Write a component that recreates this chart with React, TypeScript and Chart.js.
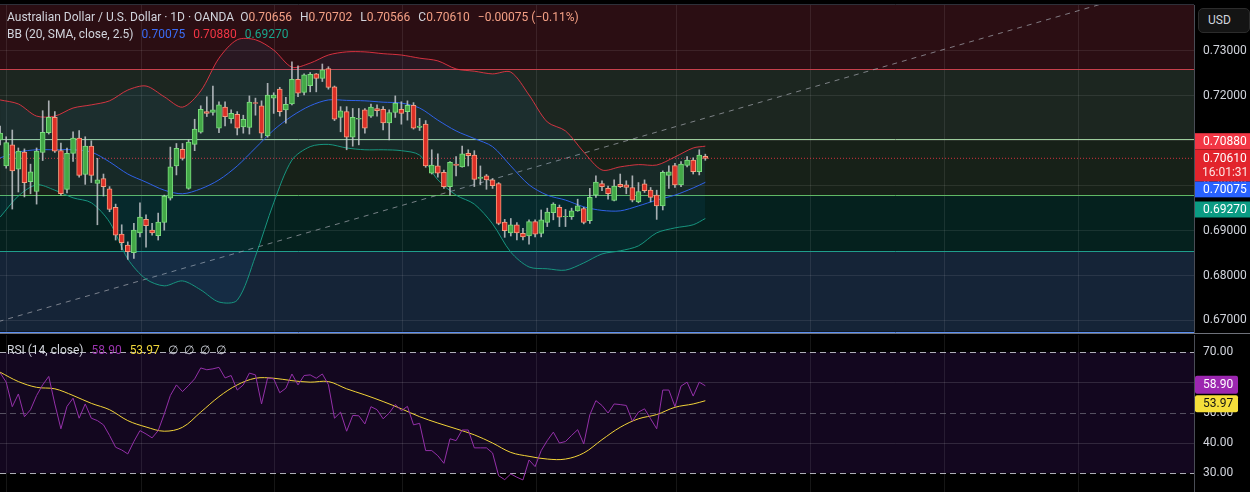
import React, { useEffect, useRef } from "react";
import { Chart, registerables } from "chart.js";

Chart.register(...registerables);

const FONT = "Roboto, 'Liberation Sans', Arial, sans-serif";

// ---------- daily candles (AUD/USD, 1D) ----------
const opens = [
  0.7102, 0.7044, 0.7091, 0.7037, 0.7075, 0.7009, 0.6987, 0.7074, 0.7118, 0.7152,
  0.7078, 0.6992, 0.7072, 0.7106, 0.7025, 0.7088, 0.7005, 0.7016, 0.6993, 0.6952,
  0.6892, 0.6868, 0.6851, 0.6895, 0.6925, 0.6901, 0.6889, 0.6918, 0.6972, 0.7044,
  0.7081, 0.6994, 0.7092, 0.7119, 0.7165, 0.7163, 0.7128, 0.7175, 0.7149, 0.7159,
  0.7131, 0.7130, 0.7185, 0.7178, 0.7111, 0.7195, 0.7215, 0.7169, 0.7182, 0.7237,
  0.7208, 0.7223, 0.7249, 0.7239, 0.7261, 0.7220, 0.7152, 0.7165, 0.7108, 0.7148,
  0.7169, 0.7155, 0.7172, 0.7170, 0.7140, 0.7163, 0.7170, 0.7165, 0.7179, 0.7130,
  0.7137, 0.7028, 0.7044, 0.7030, 0.6998, 0.7048, 0.7042, 0.7072, 0.7068, 0.7016,
  0.7022, 0.7013, 0.7005, 0.6919, 0.6895, 0.6913, 0.6894, 0.6888, 0.6920, 0.6894,
  0.6918, 0.6940, 0.6952, 0.6931, 0.6931, 0.6944, 0.6949, 0.6922, 0.6979, 0.7005,
  0.6994, 0.6967, 0.7003, 0.7002, 0.6996, 0.6964, 0.7004, 0.6990, 0.6979, 0.6955,
  0.7023, 0.7045, 0.7002, 0.7045, 0.7057, 0.7031, 0.70656,
];
const highs = [
  0.7133, 0.7109, 0.7124, 0.7084, 0.7082, 0.7048, 0.7084, 0.7167, 0.7189, 0.7165,
  0.7095, 0.7084, 0.7120, 0.7123, 0.7109, 0.7100, 0.7061, 0.7026, 0.6998, 0.6959,
  0.6913, 0.6875, 0.6916, 0.6962, 0.6935, 0.6916, 0.6939, 0.6979, 0.7086, 0.7094,
  0.7094, 0.7102, 0.7148, 0.7178, 0.7198, 0.7222, 0.7187, 0.7187, 0.7169, 0.7165,
  0.7157, 0.7200, 0.7195, 0.7189, 0.7228, 0.7207, 0.7219, 0.7197, 0.7276, 0.7267,
  0.7249, 0.7252, 0.7250, 0.7271, 0.7265, 0.7222, 0.7176, 0.7176, 0.7172, 0.7172,
  0.7172, 0.7182, 0.7180, 0.7176, 0.7169, 0.7200, 0.7187, 0.7189, 0.7185, 0.7150,
  0.7145, 0.7080, 0.7071, 0.7035, 0.7054, 0.7065, 0.7088, 0.7080, 0.7078, 0.7044,
  0.7025, 0.7016, 0.7007, 0.6925, 0.6927, 0.6918, 0.6905, 0.6924, 0.6924, 0.6946,
  0.6950, 0.6962, 0.6957, 0.6947, 0.6950, 0.6970, 0.6952, 0.6994, 0.7022, 0.7011,
  0.6999, 0.7013, 0.7026, 0.7011, 0.7022, 0.7007, 0.7013, 0.6996, 0.6990, 0.7033,
  0.7044, 0.7050, 0.7054, 0.7065, 0.7062, 0.7080, 0.70702,
];
const lows = [
  0.7091, 0.7039, 0.6948, 0.6986, 0.6975, 0.6982, 0.6959, 0.7056, 0.7115, 0.7074,
  0.6979, 0.6984, 0.7054, 0.7019, 0.7003, 0.7007, 0.6913, 0.6977, 0.6942, 0.6879,
  0.6857, 0.6836, 0.6838, 0.6886, 0.6863, 0.6890, 0.6879, 0.6901, 0.6968, 0.7024,
  0.7057, 0.6992, 0.7078, 0.7117, 0.7154, 0.7157, 0.7118, 0.7133, 0.7139, 0.7113,
  0.7117, 0.7115, 0.7157, 0.7106, 0.7108, 0.7161, 0.7155, 0.7139, 0.7180, 0.7198,
  0.7202, 0.7209, 0.7209, 0.7232, 0.7215, 0.7145, 0.7120, 0.7080, 0.7088, 0.7091,
  0.7117, 0.7152, 0.7155, 0.7124, 0.7102, 0.7152, 0.7137, 0.7146, 0.7126, 0.7123,
  0.7041, 0.7026, 0.7019, 0.6994, 0.6979, 0.7022, 0.7041, 0.7044, 0.6998, 0.7002,
  0.6992, 0.6994, 0.6913, 0.6885, 0.6888, 0.6879, 0.6879, 0.6870, 0.6886, 0.6886,
  0.6909, 0.6924, 0.6909, 0.6909, 0.6925, 0.6943, 0.6915, 0.6916, 0.6974, 0.6989,
  0.6970, 0.6966, 0.6996, 0.6982, 0.6964, 0.6962, 0.6985, 0.6964, 0.6925, 0.6946,
  0.6994, 0.6996, 0.6998, 0.7042, 0.7026, 0.7024, 0.70566,
];
const closes = [
  0.7117, 0.7096, 0.7033, 0.7077, 0.7007, 0.7031, 0.7077, 0.7119, 0.7152, 0.7077,
  0.6982, 0.7072, 0.7106, 0.7023, 0.7088, 0.7023, 0.7013, 0.6998, 0.6947, 0.6890,
  0.6873, 0.6853, 0.6901, 0.6930, 0.6911, 0.6895, 0.6919, 0.6977, 0.7042, 0.7083,
  0.7061, 0.7097, 0.7126, 0.7170, 0.7161, 0.7169, 0.7180, 0.7154, 0.7161, 0.7128,
  0.7148, 0.7186, 0.7183, 0.7117, 0.7202, 0.7202, 0.7165, 0.7181, 0.7237, 0.7206,
  0.7247, 0.7248, 0.7239, 0.7258, 0.7219, 0.7148, 0.7167, 0.7108, 0.7152, 0.7150,
  0.7128, 0.7175, 0.7167, 0.7140, 0.7163, 0.7184, 0.7161, 0.7179, 0.7128, 0.7133,
  0.7044, 0.7046, 0.7028, 0.6998, 0.7052, 0.7045, 0.7071, 0.7067, 0.7014, 0.7019,
  0.7013, 0.7000, 0.6916, 0.6900, 0.6913, 0.6895, 0.6886, 0.6920, 0.6892, 0.6924,
  0.6941, 0.6959, 0.6930, 0.6932, 0.6944, 0.6955, 0.6918, 0.6974, 0.7008, 0.6998,
  0.6982, 0.6999, 0.6998, 0.6996, 0.6968, 0.6987, 0.6989, 0.6974, 0.6955, 0.7030,
  0.7031, 0.7002, 0.7048, 0.7057, 0.7031, 0.7068, 0.70610,
];

// ---------- Bollinger Bands (20, SMA, close, 2.5), sampled ----------
const bbIdx = [
  0, 3, 6, 9, 12, 15, 18, 21, 24, 27, 30, 33, 36, 39, 42, 45, 48, 51, 54, 57,
  60, 63, 66, 69, 72, 75, 78, 81, 84, 87, 90, 93, 96, 99, 102, 105, 108, 111, 114, 116,
];
const bbUpper = [
  0.7191, 0.7182, 0.7155, 0.7155, 0.7173, 0.7180, 0.7189, 0.7213, 0.7222, 0.7198,
  0.7175, 0.7211, 0.7284, 0.7325, 0.7325, 0.7302, 0.7264, 0.7273, 0.7291, 0.7298,
  0.7298, 0.7294, 0.7291, 0.7284, 0.7278, 0.7260, 0.7255, 0.7249, 0.7253, 0.7202,
  0.7142, 0.7122, 0.7075, 0.7035, 0.7042, 0.7047, 0.7046, 0.7064, 0.7084, 0.70880,
];
const bbMiddle = [
  0.7062, 0.7075, 0.7080, 0.7080, 0.7080, 0.7075, 0.7053, 0.7026, 0.7008, 0.6990,
  0.6982, 0.6993, 0.7013, 0.7044, 0.7084, 0.7124, 0.7155, 0.7178, 0.7191, 0.7190,
  0.7189, 0.7186, 0.7184, 0.7173, 0.7146, 0.7122, 0.7105, 0.7087, 0.7044, 0.7002,
  0.6979, 0.6968, 0.6953, 0.6945, 0.6944, 0.6955, 0.6968, 0.6979, 0.6995, 0.70075,
];
const bbLower = [
  0.6930, 0.6977, 0.7002, 0.6990, 0.6973, 0.6962, 0.6919, 0.6837, 0.6792, 0.6777,
  0.6788, 0.6768, 0.6741, 0.6745, 0.6843, 0.6962, 0.7057, 0.7087, 0.7092, 0.7084,
  0.7080, 0.7080, 0.7078, 0.7068, 0.7013, 0.6979, 0.6959, 0.6915, 0.6852, 0.6819,
  0.6815, 0.6812, 0.6828, 0.6848, 0.6855, 0.6866, 0.6895, 0.6906, 0.6913, 0.69270,
];

// ---------- RSI (14, close) and its moving average ----------
const rsiValues = [
  63.2, 60.1, 52.0, 56.2, 48.7, 51.0, 55.7, 59.2, 62.0, 52.9,
  44.7, 52.1, 54.8, 48.2, 52.9, 48.2, 47.4, 46.0, 42.5, 38.6,
  37.7, 36.4, 40.5, 44.1, 43.0, 41.7, 44.1, 49.6, 55.7, 59.2,
  57.0, 59.0, 61.2, 64.8, 64.2, 64.5, 65.0, 61.5, 62.3, 57.5,
  59.2, 63.1, 62.5, 52.9, 61.5, 61.2, 56.6, 58.1, 62.8, 59.2,
  62.3, 62.5, 61.4, 62.8, 59.3, 48.2, 50.2, 43.9, 49.1, 49.0,
  46.3, 52.0, 51.0, 48.0, 49.9, 52.7, 50.7, 52.1, 46.0, 46.5,
  37.5, 37.5, 35.8, 33.3, 41.4, 40.8, 44.3, 44.3, 38.4, 38.4,
  38.4, 36.7, 29.2, 27.9, 29.8, 28.7, 27.8, 34.4, 32.2, 37.5,
  40.8, 43.6, 40.0, 40.5, 42.5, 44.4, 39.7, 49.3, 54.0, 52.4,
  49.9, 52.9, 52.7, 52.4, 47.2, 50.2, 51.3, 48.0, 44.7, 57.5,
  57.5, 52.0, 58.8, 60.1, 55.5, 60.1, 58.90,
];
const rsiMaIdx = [
  0, 3, 6, 9, 12, 15, 18, 21, 24, 27, 30, 33, 36, 39, 42, 45, 48, 51, 54, 57,
  60, 63, 66, 69, 72, 75, 78, 81, 84, 87, 90, 93, 96, 99, 102, 105, 108, 111, 114, 116,
];
const rsiMa = [
  63.4, 60.3, 58.4, 57.9, 55.7, 53.1, 51.0, 47.4, 45.3, 43.9,
  45.2, 50.2, 55.3, 59.2, 61.4, 61.4, 60.6, 60.1, 60.3, 57.9,
  55.9, 53.7, 51.3, 48.7, 46.6, 44.7, 42.7, 40.0, 36.9, 35.6,
  34.7, 34.7, 36.7, 41.1, 45.2, 48.0, 49.4, 51.8, 52.9, 53.97,
];

// ---------- drawings, levels, ticks ----------
const trendIdx = [-5, 200];
const trendPrice = [0.6679, 0.7478];
const zoneLevels = [0.7260, 0.7103, 0.6979, 0.6855, 0.6675];
const monthTicks = [1.1, 23.2, 45.1, 66.2, 88.3, 111.3, 133.3, 155.4, 177.4];
const priceTicks = [0.67, 0.68, 0.69, 0.70, 0.71, 0.72, 0.73];
const rsiTicks = [30, 40, 50, 60, 70];
const rsiLevels = [70, 50, 30];
const lastTime = "16:01:31";

// ---------- view config ----------
const X_MIN = -0.02;
const X_MAX = 196.38;
const PRICE_MIN = 0.6672;
const PRICE_MAX = 0.74024;
const RSI_MIN = 23.82;
const RSI_MAX = 75.68;
const AXIS_W = 56;

const zoneFills = ["#2b0e13", "#1c2620", "#172118", "#05211e", "#152437"];
const zoneLines = ["#c8404c", "#9ccc9c", "#5fb865", "#1f9e8c", "#5b8ff0"];
const GRID = "rgba(255,255,255,0.085)";
const AXIS_TEXT = "#d1d4dc";

const last = closes.length - 1;

function roundRect(ctx: any, x: number, y: number, w: number, h: number, r: number) {
  ctx.beginPath();
  ctx.moveTo(x + r, y);
  ctx.lineTo(x + w - r, y);
  ctx.quadraticCurveTo(x + w, y, x + w, y + r);
  ctx.lineTo(x + w, y + h - r);
  ctx.quadraticCurveTo(x + w, y + h, x + w - r, y + h);
  ctx.lineTo(x + r, y + h);
  ctx.quadraticCurveTo(x, y + h, x, y + h - r);
  ctx.lineTo(x, y + r);
  ctx.quadraticCurveTo(x, y, x + r, y);
  ctx.closePath();
}

const pricePlugin = {
  id: "pricePanel",
  beforeDraw(chart: any) {
    const { ctx, chartArea: a } = chart;
    const y = chart.scales.y;
    ctx.save();
    ctx.fillStyle = "#000";
    ctx.fillRect(0, 0, chart.width, chart.height);
    const bounds = [PRICE_MAX + 1, ...zoneLevels];
    zoneFills.forEach((col, k) => {
      const t = Math.max(a.top, y.getPixelForValue(bounds[k]));
      const b = Math.min(a.bottom, y.getPixelForValue(bounds[k + 1]));
      if (b > t) {
        ctx.fillStyle = col;
        ctx.fillRect(a.left, t, a.right - a.left, b - t);
      }
    });
    ctx.restore();
  },
  beforeDatasetsDraw(chart: any) {
    const { ctx, chartArea: a } = chart;
    const y = chart.scales.y;
    ctx.save();
    ctx.lineWidth = 1;
    zoneLevels.forEach((lv, k) => {
      const py = Math.round(y.getPixelForValue(lv)) + 0.5;
      ctx.strokeStyle = zoneLines[k];
      ctx.beginPath();
      ctx.moveTo(a.left, py);
      ctx.lineTo(a.right, py);
      ctx.stroke();
    });
    ctx.restore();
  },
  afterDraw(chart: any) {
    const { ctx, chartArea: a } = chart;
    const y = chart.scales.y;
    ctx.save();
    ctx.strokeStyle = "#2e3039";
    ctx.lineWidth = 1;
    ctx.beginPath();
    ctx.moveTo(0, a.top - 0.5);
    ctx.lineTo(a.right, a.top - 0.5);
    ctx.stroke();

    const x0 = a.right + 1;
    const w = chart.width - x0;
    ctx.font = `12px ${FONT}`;
    ctx.textBaseline = "middle";
    ctx.textAlign = "left";
    const single = (v: number, bg: string, dy: number) => {
      const cy = y.getPixelForValue(v) + dy;
      ctx.fillStyle = bg;
      ctx.fillRect(x0, cy - 8, w, 16);
      ctx.fillStyle = "#ffffff";
      ctx.fillText(v.toFixed(5), x0 + 8, cy + 0.5);
    };
    single(bbLower[bbLower.length - 1], "#0b9b83", -9);
    single(bbMiddle[bbMiddle.length - 1], "#2962ff", 7);
    single(bbUpper[bbUpper.length - 1], "#f23645", -5);
    const pc = y.getPixelForValue(closes[last]);
    ctx.fillStyle = "#e2242c";
    ctx.fillRect(x0, pc - 9, w, 32);
    ctx.fillStyle = "#ffffff";
    ctx.fillText(closes[last].toFixed(5), x0 + 8, pc + 0.5);
    ctx.fillStyle = "#fde2e2";
    ctx.fillText(lastTime, x0 + 7, pc + 14.5);
    ctx.restore();
  },
};

const rsiPlugin = {
  id: "rsiPanel",
  beforeDraw(chart: any) {
    const { ctx, chartArea: a } = chart;
    const y = chart.scales.y;
    ctx.save();
    ctx.fillStyle = "#000";
    ctx.fillRect(0, 0, chart.width, chart.height);
    const t = y.getPixelForValue(rsiLevels[0]);
    const b = y.getPixelForValue(rsiLevels[rsiLevels.length - 1]);
    ctx.fillStyle = "#13071f";
    ctx.fillRect(a.left, t, a.right - a.left, b - t);
    ctx.restore();
  },
  beforeDatasetsDraw(chart: any) {
    const { ctx, chartArea: a } = chart;
    const y = chart.scales.y;
    ctx.save();
    ctx.lineWidth = 1;
    ctx.setLineDash([6, 4]);
    rsiLevels.forEach((lv, k) => {
      const py = Math.round(y.getPixelForValue(lv)) + 0.5;
      ctx.strokeStyle = k === 1 ? "rgba(140,140,150,0.55)" : "rgba(215,217,225,0.8)";
      ctx.beginPath();
      ctx.moveTo(a.left, py);
      ctx.lineTo(a.right, py);
      ctx.stroke();
    });
    ctx.restore();
  },
  afterDraw(chart: any) {
    const { ctx, chartArea: a } = chart;
    const y = chart.scales.y;
    ctx.save();
    const x0 = a.right + 1;
    const w = 43;
    ctx.font = `12px ${FONT}`;
    ctx.textBaseline = "middle";
    const maV = rsiMa[rsiMa.length - 1];
    const cyM = y.getPixelForValue(maV) + 3;
    ctx.fillStyle = "#f5df3b";
    roundRect(ctx, x0, cyM - 8.5, w, 17, 2);
    ctx.fill();
    ctx.fillStyle = "#131313";
    ctx.fillText(maV.toFixed(2), x0 + 8, cyM + 0.5);
    const rv = rsiValues[last];
    const cyR = y.getPixelForValue(rv) - 1;
    ctx.fillStyle = "#9c27b0";
    roundRect(ctx, x0, cyR - 9, w, 18, 2);
    ctx.fill();
    ctx.fillStyle = "#ffffff";
    ctx.fillText(rv.toFixed(2), x0 + 8, cyR + 0.5);
    ctx.restore();
  },
};

const noPad = (s: any) => {
  s.paddingTop = 0;
  s.paddingBottom = 0;
  s.paddingLeft = 0;
  s.paddingRight = 0;
};

const xScale = (ticksArr: number[]) => ({
  type: "linear",
  min: X_MIN,
  max: X_MAX,
  offset: false,
  afterBuildTicks: (s: any) => {
    s.ticks = ticksArr.map((v) => ({ value: v }));
  },
  afterFit: (s: any) => {
    s.height = 0;
    noPad(s);
  },
  grid: { color: GRID, drawTicks: false, offset: false },
  border: { display: false },
  ticks: { display: false },
});

function PricePanel() {
  const ref = useRef<HTMLCanvasElement>(null);
  useEffect(() => {
    if (!ref.current) return;
    const up = closes.map((c, i) => c >= opens[i]);
    const chart = new Chart(ref.current, {
      type: "bar",
      data: {
        datasets: [
          {
            type: "bar",
            data: closes.map((c, i) => ({ x: i, y: [opens[i], c] })),
            backgroundColor: up.map((u) => (u ? "#43a847" : "#dc2f27")),
            borderColor: up.map((u) => (u ? "#7bdc7e" : "#f59c7e")),
            borderWidth: 1,
            borderSkipped: false,
            barThickness: 5,
            grouped: false,
            order: 0,
          },
          {
            type: "bar",
            data: highs.map((h, i) => ({ x: i, y: [lows[i], h] })),
            backgroundColor: "rgba(205,207,212,0.8)",
            borderWidth: 0,
            barThickness: 1,
            grouped: false,
            order: 1,
          },
          {
            type: "line",
            data: bbIdx.map((x, k) => ({ x, y: bbUpper[k] })),
            borderColor: "rgba(242,54,69,0.85)",
            borderWidth: 1,
            pointRadius: 0,
            tension: 0.3,
            fill: false,
            order: 3,
          },
          {
            type: "line",
            data: bbIdx.map((x, k) => ({ x, y: bbMiddle[k] })),
            borderColor: "#2f62e8",
            borderWidth: 1,
            pointRadius: 0,
            tension: 0.3,
            fill: false,
            order: 3,
          },
          {
            type: "line",
            data: bbIdx.map((x, k) => ({ x, y: bbLower[k] })),
            borderColor: "#17957f",
            backgroundColor: "rgba(33,150,243,0.07)",
            borderWidth: 1,
            pointRadius: 0,
            tension: 0.3,
            fill: 2,
            order: 4,
          },
          {
            type: "line",
            data: trendIdx.map((x, k) => ({ x, y: trendPrice[k] })),
            borderColor: "rgba(165,168,176,0.7)",
            borderDash: [5, 5],
            borderWidth: 1,
            pointRadius: 0,
            fill: false,
            order: 5,
          },
          {
            type: "line",
            data: [
              { x: X_MIN, y: closes[last] },
              { x: X_MAX, y: closes[last] },
            ],
            borderColor: "rgba(242,54,69,0.85)",
            borderDash: [1, 2],
            borderWidth: 1,
            pointRadius: 0,
            fill: false,
            order: 6,
          },
        ],
      } as any,
      options: {
        animation: false,
        responsive: true,
        maintainAspectRatio: false,
        events: [],
        layout: { padding: { top: 5, left: 0, right: 0, bottom: 0 } },
        plugins: { legend: { display: false }, tooltip: { enabled: false } },
        scales: {
          x: xScale(monthTicks) as any,
          y: {
            type: "linear",
            position: "right",
            min: PRICE_MIN,
            max: PRICE_MAX,
            afterBuildTicks: (s: any) => {
              s.ticks = priceTicks.map((v) => ({ value: v }));
            },
            afterFit: (s: any) => {
              s.width = AXIS_W;
              noPad(s);
            },
            grid: { color: GRID, drawTicks: false },
            border: { display: true, color: "#4a4d56" },
            ticks: {
              color: AXIS_TEXT,
              font: { family: FONT, size: 12 },
              padding: 9,
              autoSkip: false,
              callback: (v: any) => Number(v).toFixed(5),
            },
          } as any,
        },
      },
      plugins: [pricePlugin],
    });
    return () => chart.destroy();
  }, []);
  return <canvas ref={ref} />;
}

function RsiPanel() {
  const ref = useRef<HTMLCanvasElement>(null);
  useEffect(() => {
    if (!ref.current) return;
    const chart = new Chart(ref.current, {
      type: "line",
      data: {
        datasets: [
          {
            data: rsiValues.map((v, i) => ({ x: i, y: v })),
            borderColor: "#9330a8",
            borderWidth: 1,
            pointRadius: 0,
            tension: 0,
            fill: false,
            order: 0,
          },
          {
            data: rsiMaIdx.map((x, k) => ({ x, y: rsiMa[k] })),
            borderColor: "#f2d338",
            borderWidth: 1,
            pointRadius: 0,
            tension: 0.35,
            fill: false,
            order: 1,
          },
        ],
      } as any,
      options: {
        animation: false,
        responsive: true,
        maintainAspectRatio: false,
        events: [],
        layout: { padding: 0 },
        plugins: { legend: { display: false }, tooltip: { enabled: false } },
        scales: {
          x: xScale(monthTicks) as any,
          y: {
            type: "linear",
            position: "right",
            min: RSI_MIN,
            max: RSI_MAX,
            afterBuildTicks: (s: any) => {
              s.ticks = rsiTicks.map((v) => ({ value: v }));
            },
            afterFit: (s: any) => {
              s.width = AXIS_W;
              noPad(s);
            },
            grid: {
              drawTicks: false,
              color: (c: any) =>
                c.tick && (c.tick.value === 40 || c.tick.value === 60)
                  ? "rgba(255,255,255,0.13)"
                  : "rgba(0,0,0,0)",
            },
            border: { display: true, color: "#4a4d56" },
            ticks: {
              color: AXIS_TEXT,
              font: { family: FONT, size: 12 },
              padding: 9,
              autoSkip: false,
              callback: (v: any) => Number(v).toFixed(2),
            },
          } as any,
        },
      },
      plugins: [rsiPlugin],
    });
    return () => chart.destroy();
  }, []);
  return <canvas ref={ref} />;
}

const txt: React.CSSProperties = {
  position: "absolute",
  left: 7,
  fontFamily: FONT,
  fontSize: 12,
  lineHeight: "16px",
  whiteSpace: "pre",
  color: "#d1d4dc",
  pointerEvents: "none",
};
const VAL = "#f4a085";

export default function App() {
  const o = opens[last].toFixed(5);
  const h = highs[last].toFixed(5);
  const l = lows[last].toFixed(5);
  const c = closes[last].toFixed(5);
  return (
    <div
      style={{
        position: "fixed",
        left: 0,
        top: 0,
        width: 1250,
        height: 492,
        background: "#000",
        overflow: "hidden",
      }}
    >
      <div style={{ position: "absolute", left: 0, top: 0, width: 1250, height: 333 }}>
        <PricePanel />
      </div>
      <div
        style={{ position: "absolute", left: 0, top: 333, width: 1250, height: 1, background: "#6e717a" }}
      />
      <div style={{ position: "absolute", left: 0, top: 335, width: 1250, height: 157 }}>
        <RsiPanel />
      </div>

      <div style={{ ...txt, top: 9 }}>
        <span>Australian Dollar / U.S. Dollar · 1D · OANDA</span>
        <span style={{ marginLeft: 6 }}>O</span>
        <span style={{ color: VAL }}>{o}</span>
        <span style={{ marginLeft: 8 }}>H</span>
        <span style={{ color: VAL }}>{h}</span>
        <span style={{ marginLeft: 8 }}>L</span>
        <span style={{ color: VAL }}>{l}</span>
        <span style={{ marginLeft: 8 }}>C</span>
        <span style={{ color: VAL }}>{c}</span>
        <span style={{ color: VAL, marginLeft: 8 }}>−0.00075 (−0.11%)</span>
      </div>
      <div style={{ ...txt, top: 26 }}>
        <span>BB (20, SMA, close, 2.5)</span>
        <span style={{ color: "#3b6cf5", marginLeft: 8 }}>{bbMiddle[bbMiddle.length - 1].toFixed(5)}</span>
        <span style={{ color: "#f23645", marginLeft: 8 }}>{bbUpper[bbUpper.length - 1].toFixed(5)}</span>
        <span style={{ color: "#1aa58c", marginLeft: 8 }}>{bbLower[bbLower.length - 1].toFixed(5)}</span>
      </div>
      <div style={{ ...txt, top: 342 }}>
        <span>RSI (14, close)</span>
        <span style={{ color: "#9a34ad", marginLeft: 8 }}>{rsiValues[last].toFixed(2)}</span>
        <span style={{ color: "#eed43a", marginLeft: 8 }}>{rsiMa[rsiMa.length - 1].toFixed(2)}</span>
        <span style={{ marginLeft: 8 }}>∅  ∅  ∅  ∅</span>
      </div>

      <div
        style={{
          position: "absolute",
          left: 1198,
          top: 8,
          width: 52,
          height: 25,
          boxSizing: "border-box",
          borderRadius: 5,
          background: "#141414",
          border: "1px solid #2c2c2c",
          color: "#d1d4dc",
          fontFamily: FONT,
          fontSize: 12,
          lineHeight: "23px",
          paddingLeft: 9,
        }}
      >
        USD
      </div>
    </div>
  );
}
